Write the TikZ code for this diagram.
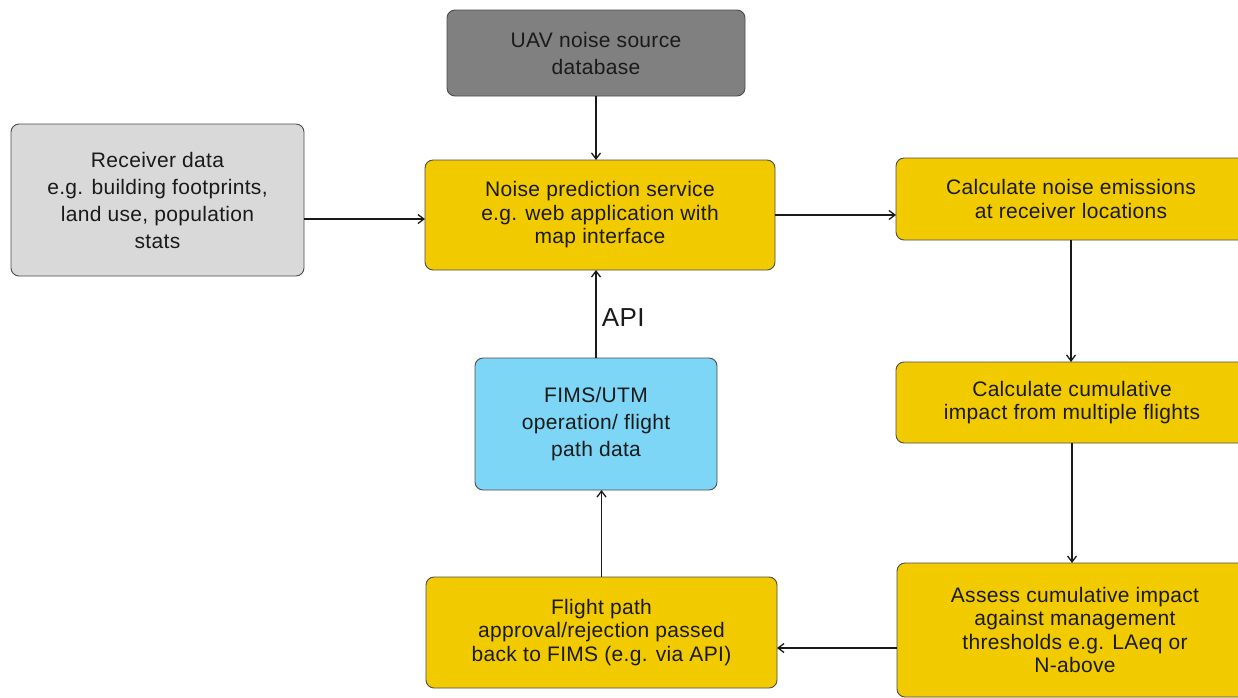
\documentclass[tikz,border=0pt]{standalone}
\usepackage{fontspec}
\setmainfont[LetterSpace=1.5]{Liberation Sans}
\usetikzlibrary{positioning,arrows.meta}
\definecolor{srcC}{HTML}{808080}
\definecolor{rcvC}{HTML}{D9D9D9}
\definecolor{stepC}{HTML}{F2CA00}
\definecolor{fimsC}{HTML}{7DD6F6}
\definecolor{lineC}{HTML}{1A1A1A}
\tikzset{
  box/.style={draw=black!70, line width=0.9pt, rounded corners=8pt, align=center,
              inner sep=0pt, outer sep=0pt, text=lineC,
              font=\fontsize{21}{23.5}\selectfont},
  srcbox/.style={box, fill=srcC, font=\fontsize{21}{27}\selectfont},
  rcvbox/.style={box, fill=rcvC, font=\fontsize{21}{27}\selectfont},
  stepbox/.style={box, fill=stepC},
  fimsbox/.style={box, fill=fimsC, font=\fontsize{21}{27}\selectfont},
  flow/.style={-{Straight Barb[length=6pt,width=9pt]}, line width=1.3pt, draw=lineC},
  lbl/.style={font=\fontsize{26}{28}\selectfont, text=lineC},
}
\begin{document}
\begin{tikzpicture}[x=1pt, y=-1pt]
\useasboundingbox (0,0) rectangle (1238,697);
\clip (0,0) rectangle (1238,697);
% inputs
\node[srcbox, minimum width=298pt, minimum height=86pt] (uav) at (596,53)
  {UAV noise source\\ database};
\node[rcvbox, minimum width=293pt, minimum height=152pt] (rcv) at (157.5,200)
  {Receiver data\\ e.g. building footprints,\\ land use, population\\ stats};
\node[stepbox, minimum width=350pt, minimum height=110pt] (pred) at (600,215)
  {Noise prediction service\\ e.g. web application with\\ map interface};
\node[fimsbox, minimum width=242pt, minimum height=132pt] (fims) at (596,424)
  {FIMS/UTM\\ operation/ flight\\ path data};
\node[stepbox, minimum width=351pt, minimum height=111pt] (flight) at (601.5,632.5)
  {Flight path\\ approval/rejection passed\\ back to FIMS (e.g. via API)};
% right column, runs off the page
\node[stepbox, minimum width=350pt, minimum height=82pt] (calc) at (1071,199)
  {Calculate noise emissions\\ at receiver locations};
\node[stepbox, minimum width=352pt, minimum height=81pt] (cumul) at (1072,402.5)
  {Calculate cumulative\\ impact from multiple flights};
\node[stepbox, minimum width=356pt, minimum height=134pt] (assess) at (1075,630)
  {Assess cumulative impact\\ against management\\ thresholds e.g. LAeq or\\ N-above};
% connectors
\draw[flow] (uav.south) -- (uav.south |- pred.north);
\draw[flow] ([yshift=-4pt]rcv.east |- pred.west) -- ([yshift=-4pt]pred.west);
\draw[flow] (pred.east) -- (pred.east -| calc.west);
\draw[flow] (calc.south) -- (calc.south |- cumul.north);
\draw[flow] (cumul.south) -- (cumul.south |- assess.north);
\draw[flow] ([yshift=-18pt]assess.west) -- ([yshift=-18pt]assess.west -| flight.east);
\draw[flow] (flight.north) -- (flight.north |- fims.south);
\draw[flow] (fims.north) -- node[lbl, right=2pt, yshift=-4pt] {API} (fims.north |- pred.south);
\end{tikzpicture}
\end{document}
